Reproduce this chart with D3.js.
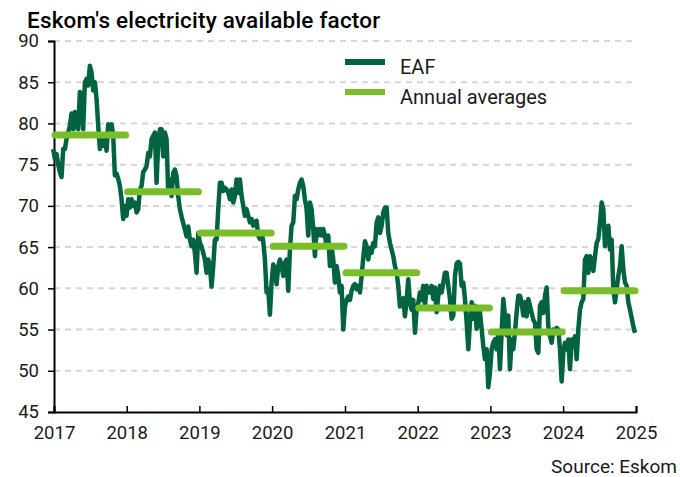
<!DOCTYPE html>
<html><head><meta charset="utf-8">
<script src="https://cdn.jsdelivr.net/npm/d3@7"></script>
<style>
body{margin:0;background:#fff;}
svg{display:block;font-family:Roboto,"Liberation Sans",sans-serif;}
</style>
</head><body>
<svg id="chart" width="680" height="477"></svg>
<script>
// ---- data ----
const titleText = "Eskom's electricity available factor";
const sourceText = "Source: Eskom";
const seriesNames = ["EAF", "Annual averages"];
const eafFirstDate = "2016-12-28";
const eafLastDate = "2024-12-27";
const eafValues = [
76.9,75.7,76.3,75.0,74.1,73.5,76.9,76.9,78.1,78.9,79.7,81.2,79.3,81.4,79.7,79.3,83.8,83.4,79.3,85.0,
85.4,84.6,87.0,86.2,84.0,85.0,83.0,79.7,76.9,78.1,77.3,78.5,76.7,79.9,79.7,79.9,78.5,73.7,73.9,73.3,
72.4,70.8,68.4,70.0,68.8,70.8,69.8,70.8,70.0,70.4,69.2,69.6,72.0,72.4,74.1,
74.4,74.8,76.4,76.0,78.1,78.5,78.9,72.8,77.7,79.3,79.3,76.0,78.9,78.1,71.6,73.2,71.2,74.0,74.4,73.6,
71.2,69.6,68.7,67.9,67.1,66.3,67.5,65.9,65.1,65.9,64.3,61.9,66.7,65.5,65.1,64.3,63.5,61.9,63.5,62.7,
60.2,62.7,65.9,65.9,69.6,72.8,72.8,71.8,72.2,72.0,71.6,70.8,72.0,70.4,71.2,73.2,71.6,
73.2,71.2,70.0,68.8,69.6,68.8,68.0,68.4,67.6,68.0,68.2,66.4,66.0,66.8,65.7,63.5,59.5,59.9,56.8,60.7,
62.9,62.3,60.5,62.7,63.5,62.7,61.5,63.1,63.5,59.7,64.7,67.6,68.0,71.2,70.8,72.0,72.8,73.2,72.4,70.8,
69.6,66.4,70.4,69.6,67.2,63.9,67.2,66.4,67.2,66.4,67.2,66.4,65.1,66.4,62.7,65.1,63.5,
60.7,62.7,61.5,59.5,60.3,55.0,57.8,58.6,59.0,58.6,59.7,60.3,60.5,59.9,60.3,59.5,61.5,63.7,65.7,65.1,
63.5,64.9,64.3,65.5,65.1,68.0,68.6,66.7,67.6,69.2,69.8,69.8,66.7,65.5,64.7,63.9,62.7,61.9,60.3,57.8,
58.6,58.8,56.6,58.6,61.1,58.2,57.4,58.6,54.6,57.4,58.2,59.5,58.6,60.3,57.8,60.3,59.5,
59.5,60.3,58.7,60.1,57.1,59.1,60.3,59.5,60.7,61.9,61.9,60.3,58.7,56.3,56.7,61.5,63.0,63.2,63.0,60.3,
60.7,58.7,55.9,52.6,55.9,58.3,56.3,57.9,55.1,55.9,57.1,55.1,53.0,51.4,52.6,48.0,49.8,52.6,53.4,53.8,
52.6,54.7,50.2,54.7,58.7,56.7,54.3,56.7,50.2,53.8,52.6,54.7,57.1,59.1,59.1,58.3,56.7,
58.3,56.6,58.7,57.9,57.0,56.2,55.8,52.6,52.2,57.9,58.3,57.0,59.1,60.1,55.4,54.2,53.4,55.0,54.6,55.2,
55.0,52.6,48.7,52.2,53.4,52.6,53.8,50.2,53.8,53.0,54.2,51.4,55.0,57.4,58.3,58.7,63.5,63.9,61.9,63.9,
63.5,62.1,63.9,65.5,66.0,68.0,70.4,69.6,65.1,66.8,67.6,64.7,65.9,59.9,58.3,59.9,61.5,62.7,65.1,62.3,
60.7,60.3,58.3,57.4,56.4,55.4,54.6
];
const avgYears = [2017, 2018, 2019, 2020, 2021, 2022, 2023, 2024];
const avgValues = [78.6, 71.7, 66.7, 65.1, 61.9, 57.6, 54.7, 59.7];
const yTickValues = [45, 50, 55, 60, 65, 70, 75, 80, 85, 90];
const xTickYears = [2017, 2018, 2019, 2020, 2021, 2022, 2023, 2024, 2025];

// ---- styles ----
const darkGreen = "#02643f";
const lightGreen = "#79be2a";
const textColor = "#1a1a1a";

const svg = d3.select("#chart");
const plotL = 54, plotR = 636, plotT = 41, plotB = 412;

const t0 = new Date(eafFirstDate).getTime(), t1 = new Date(eafLastDate).getTime();
const eafData = eafValues.map((v, i) => ({
  date: new Date(t0 + (t1 - t0) * i / (eafValues.length - 1)), value: v
}));

const x = d3.scaleTime()
  .domain([new Date(xTickYears[0], 0, 1), new Date(xTickYears[xTickYears.length - 1], 0, 1)])
  .range([plotL, plotR]);
const y = d3.scaleLinear().domain([45, 90]).range([plotB, plotT]);

// gridlines
svg.append("g").selectAll("line")
  .data(yTickValues.filter(v => v > 45))
  .join("line")
  .attr("x1", plotL).attr("x2", plotR)
  .attr("y1", d => y(d)).attr("y2", d => y(d))
  .attr("stroke", "#d6d6d6").attr("stroke-width", 2)
  .attr("stroke-dasharray", "6,5");

// y axis
const yAxis = svg.append("g").attr("transform", `translate(${plotL},0)`)
  .call(d3.axisLeft(y).tickValues(yTickValues).tickSize(6).tickPadding(9));
yAxis.select(".domain").attr("stroke", "#000").attr("stroke-width", 2);
yAxis.selectAll(".tick line").attr("stroke", "#000").attr("stroke-width", 1.5);
yAxis.selectAll("text").attr("font-size", 18.5).attr("fill", textColor)
  .attr("font-family", "Roboto, sans-serif");

// x axis
const xAxis = svg.append("g").attr("transform", `translate(0,${plotB})`)
  .call(d3.axisBottom(x).tickValues(xTickYears.map(yr => new Date(yr, 0, 1)))
    .tickFormat(d3.timeFormat("%Y")).tickSize(-6).tickPadding(14));
xAxis.select(".domain").attr("stroke", "#000").attr("stroke-width", 2);
xAxis.selectAll(".tick line").attr("stroke", "#000").attr("stroke-width", 1.5);
xAxis.selectAll("text").attr("font-size", 18.5).attr("fill", textColor)
  .attr("font-family", "Roboto, sans-serif");

// EAF line
const line = d3.line().x(d => x(d.date)).y(d => y(d.value));
svg.append("path").datum(eafData)
  .attr("d", line).attr("fill", "none")
  .attr("stroke", darkGreen).attr("stroke-width", 4.5)
  .attr("stroke-linejoin", "round");

// annual averages
svg.append("g").selectAll("line")
  .data(avgYears.map((yr, i) => ({ yr, v: avgValues[i] })))
  .join("line")
  .attr("x1", d => x(new Date(d.yr, 0, 1)) + 1)
  .attr("x2", d => x(new Date(d.yr + 1, 0, 1)) - 1)
  .attr("y1", d => y(d.v)).attr("y2", d => y(d.v))
  .attr("stroke", lightGreen).attr("stroke-width", 7)
  .attr("stroke-linecap", "round");

// legend
const legend = svg.append("g");
[[seriesNames[0], darkGreen, 62], [seriesNames[1], lightGreen, 92]].forEach(([name, col, ly]) => {
  legend.append("line").attr("x1", 345).attr("x2", 385).attr("y1", ly).attr("y2", ly)
    .attr("stroke", col).attr("stroke-width", 6);
  legend.append("text").attr("x", 400).attr("y", ly + 12).text(name)
    .attr("font-size", 20).attr("fill", textColor);
});

// title and source
svg.append("text").attr("x", 27).attr("y", 28).text(titleText)
  .attr("font-size", 22.5).attr("font-weight", 500).attr("fill", "#000")
  .attr("letter-spacing", 0.2);
svg.append("text").attr("x", 677).attr("y", 473).attr("text-anchor", "end")
  .text(sourceText).attr("font-size", 19).attr("fill", textColor);
</script>
</body></html>
